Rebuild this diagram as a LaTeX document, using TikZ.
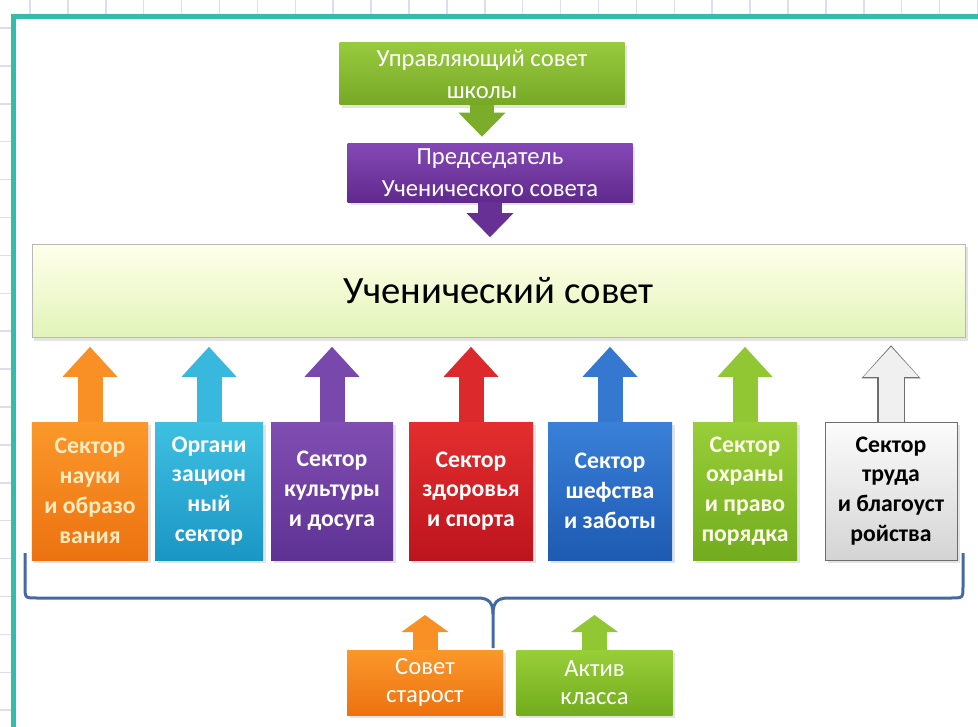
\documentclass[tikz,border=0pt]{standalone}
\usepackage{fontspec}
\setmainfont{Carlito}
\usetikzlibrary{calc}
\usetikzlibrary{arrows.meta}
\usetikzlibrary{shadows}
\definecolor{frameteal}{RGB}{48,190,170}
\definecolor{gridlav}{RGB}{224,220,240}
\definecolor{bracebl}{RGB}{68,106,165}
\definecolor{govtop}{RGB}{152,202,62}
\definecolor{govbot}{RGB}{118,168,38}
\definecolor{chairtop}{RGB}{132,72,182}
\definecolor{chairbot}{RGB}{96,42,140}
\definecolor{cnctop}{RGB}{255,255,234}
\definecolor{cncbot}{RGB}{226,244,184}
\definecolor{orangetop}{RGB}{251,152,42}
\definecolor{orangebot}{RGB}{236,114,16}
\definecolor{tealtop}{RGB}{62,192,226}
\definecolor{tealbot}{RGB}{26,150,196}
\definecolor{purpletop}{RGB}{128,78,178}
\definecolor{purplebot}{RGB}{94,50,148}
\definecolor{redtop}{RGB}{228,46,46}
\definecolor{redbot}{RGB}{188,20,30}
\definecolor{bluetop}{RGB}{58,128,216}
\definecolor{bluebot}{RGB}{30,90,178}
\definecolor{greentop}{RGB}{152,206,56}
\definecolor{greenbot}{RGB}{114,172,30}
\definecolor{greytop}{RGB}{252,252,252}
\definecolor{greybot}{RGB}{212,212,212}
\definecolor{greyline}{RGB}{110,110,110}
\definecolor{cream}{RGB}{255,236,192}

\begin{document}
\begin{tikzpicture}[
    x=0.2mm, y=-0.2mm,
    gridline/.style={draw=gridlav, line width=0.3mm},
    box/.style={rectangle, align=center, inner sep=0pt, text=white,
        drop shadow={opacity=0.22, shadow xshift=0.5mm, shadow yshift=-0.6mm}},
    topbox/.style={box, minimum width=57mm, font=\fontsize{14}{18}\selectfont},
    sector/.style={box, minimum height=27.6mm, font=\bfseries\fontsize{13.5}{17}\selectfont},
    classbox/.style={box, minimum width=31.2mm, minimum height=13mm, font=\fontsize{14}{16}\selectfont},
    downarrow/.style={line width=4.8mm, -{Triangle[length=4.8mm, width=9.4mm, line width=0pt]}, shorten >=1.4mm},
    uparrow/.style={line width=5mm, -{Triangle[length=6mm, width=11mm, line width=0pt]}, shorten >=1.8mm},
    smallarrow/.style={line width=5mm, -{Triangle[length=3.4mm, width=9.4mm, line width=0pt]}, shorten >=3.4mm},
    brace/.style={draw=bracebl, line width=0.6mm, line join=round}
]
    \useasboundingbox (0,0) rectangle (978,727);

    % background sheet
    \foreach \gx in {0,...,25} \draw[gridline] ({30+37.9*\gx},0) -- ++(0,727);
    \foreach \gy in {0,...,18} \draw[gridline] (0,{28+37.9*\gy}) -- ++(978,0);
    \fill[white] (13.5,16.5) rectangle (985,735);
    \draw[frameteal, line width=1mm] (985,16.5) -- (13.5,16.5) -- (13.5,735);

    % top of the structure
    \node[topbox, minimum height=12.4mm, top color=govtop, bottom color=govbot] (gov) at (482,74)
        {Управляющий совет\\школы};
    \node[topbox, minimum height=11.6mm, top color=chairtop, bottom color=chairbot] (chair) at (490,173)
        {Председатель\\Ученического совета};
    \node[box, minimum width=186.6mm, minimum height=18.6mm, top color=cnctop, bottom color=cncbot,
        draw=black!28, text=black, font=\fontsize{22}{26}\selectfont] (council) at (498.5,291)
        {Ученический совет};

    \draw[downarrow, govbot!85!govtop] (gov.south) -- (gov.south |- chair.north);
    \draw[downarrow, chairbot!80!chairtop] (chair.south) -- (chair.south |- council.north);

    % sectors
    \node[sector, minimum width=23.2mm, top color=orangetop, bottom color=orangebot, text=cream] (science) at (90,491)
        {Сектор\\науки\\и образо\\вания};
    \node[sector, minimum width=21.6mm, top color=tealtop, bottom color=tealbot] (org) at (209,491)
        {Органи\\зацион\\ный\\сектор};
    \node[sector, minimum width=24.4mm, top color=purpletop, bottom color=purplebot] (culture) at (332,491)
        {Сектор\\культуры\\и досуга};
    \node[sector, minimum width=24.8mm, top color=redtop, bottom color=redbot] (health) at (471,491)
        {Сектор\\здоровья\\и спорта};
    \node[sector, minimum width=24.8mm, top color=bluetop, bottom color=bluebot] (care) at (610,491)
        {Сектор\\шефства\\и заботы};
    \node[sector, minimum width=20.8mm, top color=greentop, bottom color=greenbot, text=white!92!yellow] (order) at (745,491)
        {Сектор\\охраны\\и право\\порядка};
    \node[sector, minimum width=26.4mm, top color=greytop, bottom color=greybot, draw=greyline, text=black] (labour) at (891,491)
        {Сектор\\труда\\и благоуст\\ройства};

    \draw[uparrow, orangetop!80!orangebot] (science.north) -- (science.north |- council.south);
    \draw[uparrow, tealtop!80!tealbot] (org.north) -- (org.north |- council.south);
    \draw[uparrow, purpletop!80!purplebot] (culture.north) -- (culture.north |- council.south);
    \draw[uparrow, redtop!80!redbot] (health.north) -- (health.north |- council.south);
    \draw[uparrow, bluetop!80!bluebot] (care.north) -- (care.north |- council.south);
    \draw[uparrow, greentop!80!greenbot] (order.north) -- (order.north |- council.south);
    \draw[uparrow, greyline, line width=5.5mm, -{Triangle[length=6.6mm, width=11.8mm, line width=0pt]}, shorten >=1.5mm]
        (labour.north) -- (labour.north |- council.south);
    \draw[uparrow, greytop!70!greybot] (labour.north) -- (labour.north |- council.south);

    % class level
    \node[classbox, top color=orangetop, bottom color=orangebot] (elders) at (425,682.5) {Совет\\старост};
    \node[classbox, top color=greentop, bottom color=greenbot] (activ) at (594.5,682.5) {Актив\\класса};

    \coordinate (braceline) at (25,598);
    \draw[brace] (25,553) -- (25,586) .. controls (25,598) .. (37,598) -- (478,598)
        .. controls (489,598) and (493,603) .. (493,614) -- (493,648);
    \draw[brace] (963,553) -- (963,586) .. controls (963,598) .. (951,598) -- (508,598)
        .. controls (497,598) and (493,603) .. (493,614);

    \draw[smallarrow, orangetop!80!orangebot] (elders.north) -- (elders.north |- braceline);
    \draw[smallarrow, greentop!80!greenbot] (activ.north) -- (activ.north |- braceline);
\end{tikzpicture}
\end{document}
